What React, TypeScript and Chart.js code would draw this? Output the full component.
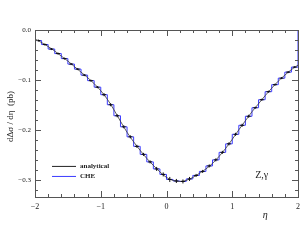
import React, { useEffect, useRef } from "react";
import { Chart, registerables } from "chart.js";

Chart.register(...registerables);

// analytical curve, eta grid and values
const ETA_GRID = [-2.0, -1.9, -1.8, -1.7, -1.6, -1.5, -1.4, -1.3, -1.2, -1.1, -1.0, -0.9, -0.8, -0.7, -0.6, -0.5, -0.4, -0.3, -0.2, -0.1, 0.0, 0.1, 0.2, 0.3, 0.4, 0.5, 0.6, 0.7, 0.8, 0.9, 1.0, 1.1, 1.2, 1.3, 1.4, 1.5, 1.6, 1.7, 1.8, 1.9, 2.0];
const ANALYTICAL = [-0.018, -0.025, -0.033, -0.042, -0.052, -0.062, -0.073, -0.084, -0.095, -0.107, -0.121, -0.138, -0.159, -0.182, -0.204, -0.223, -0.240, -0.256, -0.270, -0.283, -0.294, -0.300, -0.302, -0.300, -0.294, -0.286, -0.277, -0.266, -0.252, -0.236, -0.218, -0.199, -0.181, -0.163, -0.147, -0.131, -0.116, -0.102, -0.090, -0.079, -0.070];

// CHE histogram: bin low edges, values and errors
const BIN_LOW = [-2.0, -1.9, -1.8, -1.7, -1.6, -1.5, -1.4, -1.3, -1.2, -1.1, -1.0, -0.9, -0.8, -0.7, -0.6, -0.5, -0.4, -0.3, -0.2, -0.1, 0.0, 0.1, 0.2, 0.3, 0.4, 0.5, 0.6, 0.7, 0.8, 0.9, 1.0, 1.1, 1.2, 1.3, 1.4, 1.5, 1.6, 1.7, 1.8, 1.9];
const BIN_HIGH = [-1.9, -1.8, -1.7, -1.6, -1.5, -1.4, -1.3, -1.2, -1.1, -1.0, -0.9, -0.8, -0.7, -0.6, -0.5, -0.4, -0.3, -0.2, -0.1, 0.0, 0.1, 0.2, 0.3, 0.4, 0.5, 0.6, 0.7, 0.8, 0.9, 1.0, 1.1, 1.2, 1.3, 1.4, 1.5, 1.6, 1.7, 1.8, 1.9, 2.0];
const CHE = [-0.021, -0.029, -0.038, -0.047, -0.057, -0.068, -0.078, -0.090, -0.101, -0.114, -0.129, -0.149, -0.171, -0.193, -0.213, -0.232, -0.248, -0.263, -0.277, -0.288, -0.298, -0.301, -0.302, -0.297, -0.290, -0.282, -0.271, -0.259, -0.244, -0.227, -0.208, -0.190, -0.172, -0.155, -0.139, -0.123, -0.109, -0.096, -0.084, -0.074];
const CHE_ERR = [0.002, 0.002, 0.002, 0.002, 0.002, 0.002, 0.002, 0.002, 0.002, 0.002, 0.003, 0.003, 0.003, 0.003, 0.003, 0.003, 0.003, 0.003, 0.004, 0.004, 0.005, 0.004, 0.004, 0.004, 0.003, 0.003, 0.003, 0.003, 0.003, 0.003, 0.003, 0.003, 0.003, 0.002, 0.002, 0.002, 0.002, 0.002, 0.002, 0.002];

const X_TICKS = [-2, -1, 0, 1, 2];
const Y_TICKS = [0, -0.1, -0.2, -0.3];
const X_MINOR = [-1.8, -1.6, -1.4, -1.2, -0.8, -0.6, -0.4, -0.2, 0.2, 0.4, 0.6, 0.8, 1.2, 1.4, 1.6, 1.8];
const Y_MINOR = [-0.02, -0.04, -0.06, -0.08, -0.12, -0.14, -0.16, -0.18, -0.22, -0.24, -0.26, -0.28, -0.32];

const LEGEND = ["analytical", "CHE"];
const COLORS = ["#222222", "#3b3bff"];

const overlay = {
  id: "overlay",
  afterDatasetsDraw(chart: any) {
    const { ctx, scales } = chart;
    const xs = scales.x, ys = scales.y;
    ctx.save();
    ctx.strokeStyle = "#111";
    ctx.lineWidth = 1;
    for (let i = 0; i < CHE.length; i++) {
      const xm = xs.getPixelForValue((BIN_LOW[i] + BIN_HIGH[i]) / 2);
      const x0 = xs.getPixelForValue(BIN_LOW[i] + 0.02);
      const x1 = xs.getPixelForValue(BIN_HIGH[i] - 0.02);
      const y = ys.getPixelForValue(CHE[i]);
      const ya = ys.getPixelForValue(CHE[i] + CHE_ERR[i]);
      const yb = ys.getPixelForValue(CHE[i] - CHE_ERR[i]);
      ctx.beginPath();
      ctx.moveTo(x0, y);
      ctx.lineTo(x1, y);
      ctx.moveTo(xm, ya);
      ctx.lineTo(xm, yb);
      ctx.stroke();
    }
    ctx.restore();
  },
  afterDraw(chart: any) {
    const { ctx, chartArea: a, scales } = chart;
    const xs = scales.x, ys = scales.y;
    ctx.save();
    ctx.strokeStyle = "#555";
    ctx.lineWidth = 1;
    ctx.strokeRect(a.left + 0.5, a.top + 0.5, a.right - a.left, a.bottom - a.top);
    ctx.beginPath();
    const tickX = (v: number, len: number) => {
      const px = Math.round(xs.getPixelForValue(v)) + 0.5;
      ctx.moveTo(px, a.bottom);
      ctx.lineTo(px, a.bottom - len);
      ctx.moveTo(px, a.top);
      ctx.lineTo(px, a.top + len);
    };
    const tickY = (v: number, len: number) => {
      const py = Math.round(ys.getPixelForValue(v)) + 0.5;
      ctx.moveTo(a.left, py);
      ctx.lineTo(a.left + len, py);
      ctx.moveTo(a.right, py);
      ctx.lineTo(a.right - len, py);
    };
    X_TICKS.forEach((v) => tickX(v, 6));
    X_MINOR.forEach((v) => tickX(v, 3));
    Y_TICKS.forEach((v) => tickY(v, 6));
    Y_MINOR.forEach((v) => tickY(v, 3));
    ctx.stroke();

    // legend
    const lx0 = a.left + 17, lx1 = a.left + 41;
    const ly = [ys.getPixelForValue(-0.272), ys.getPixelForValue(-0.292)];
    ctx.font = "bold 7px 'Liberation Serif'";
    ctx.textBaseline = "middle";
    ctx.textAlign = "left";
    LEGEND.forEach((t, i) => {
      ctx.strokeStyle = COLORS[i];
      ctx.lineWidth = 1;
      ctx.beginPath();
      ctx.moveTo(lx0, ly[i]);
      ctx.lineTo(lx1, ly[i]);
      ctx.stroke();
      ctx.fillStyle = "#222";
      ctx.fillText(t, lx1 + 4, ly[i]);
    });

    // Z,gamma label
    ctx.font = "10px 'Liberation Serif'";
    ctx.fillStyle = "#222";
    ctx.fillText("Z,\u03b3", xs.getPixelForValue(1.35), ys.getPixelForValue(-0.29));

    // x title
    ctx.font = "italic 10px 'Liberation Serif'";
    ctx.textAlign = "center";
    ctx.fillText("\u03b7", xs.getPixelForValue(1.5), a.bottom + 18);

    // y title
    ctx.save();
    ctx.translate(11, (a.top + a.bottom) / 2 + 3);
    ctx.rotate(-Math.PI / 2);
    ctx.font = "9px 'Liberation Serif'";
    ctx.textAlign = "center";
    ctx.fillText("d\u0394\u03c3 / d\u03b7  (pb)", 0, 0);
    ctx.restore();
    ctx.restore();
  },
};

export default function App() {
  const ref = useRef<HTMLCanvasElement | null>(null);
  useEffect(() => {
    document.body.style.margin = "0";
    const histo: { x: number; y: number }[] = BIN_LOW.map((x, i) => ({ x, y: CHE[i] }));
    histo.push({ x: BIN_HIGH[BIN_HIGH.length - 1], y: CHE[CHE.length - 1] });
    histo.push({ x: BIN_HIGH[BIN_HIGH.length - 1], y: 0 });
    const chart = new Chart(ref.current!, {
      type: "line",
      data: {
        datasets: [
          {
            label: LEGEND[0],
            data: ETA_GRID.map((x, i) => ({ x, y: ANALYTICAL[i] })),
            borderColor: "#333",
            borderWidth: 0.8,
            pointRadius: 0,
            tension: 0.3,
          },
          {
            label: LEGEND[1],
            data: histo,
            borderColor: COLORS[1],
            borderWidth: 1,
            pointRadius: 0,
            stepped: "before",
            clip: 3,
          } as any,
        ],
      },
      options: {
        animation: false,
        responsive: false,
        events: [],
        layout: { padding: { top: 30, right: 7, left: 0, bottom: 0 } },
        plugins: { legend: { display: false }, tooltip: { enabled: false } },
        scales: {
          x: {
            type: "linear",
            min: -2,
            max: 2,
            grid: { display: false, drawTicks: false },
            border: { display: false },
            afterBuildTicks: (s: any) => { s.ticks = X_TICKS.map((value) => ({ value })); },
            afterFit: (s: any) => { s.height = 43; },
            ticks: {
              padding: 5,
              color: "#222",
              font: { family: "'Liberation Serif'", size: 8 },
              callback: (v: any) => String(v).replace("-", "\u2212"),
            },
          },
          y: {
            type: "linear",
            min: -0.333,
            max: 0,
            grid: { display: false, drawTicks: false },
            border: { display: false },
            afterBuildTicks: (s: any) => { s.ticks = Y_TICKS.map((value) => ({ value })); },
            afterFit: (s: any) => { s.width = 35; },
            ticks: {
              padding: 4,
              color: "#222",
              font: { family: "'Liberation Serif'", size: 7 },
              callback: (v: any) => Number(v).toFixed(1).replace("-", "\u2212"),
            },
          },
        },
      },
      plugins: [overlay],
    });
    return () => chart.destroy();
  }, []);
  return (
    <div style={{ position: "absolute", left: 0, top: 0, width: 305, height: 240, background: "#fff" }}>
      <canvas ref={ref} width={305} height={240} />
    </div>
  );
}
